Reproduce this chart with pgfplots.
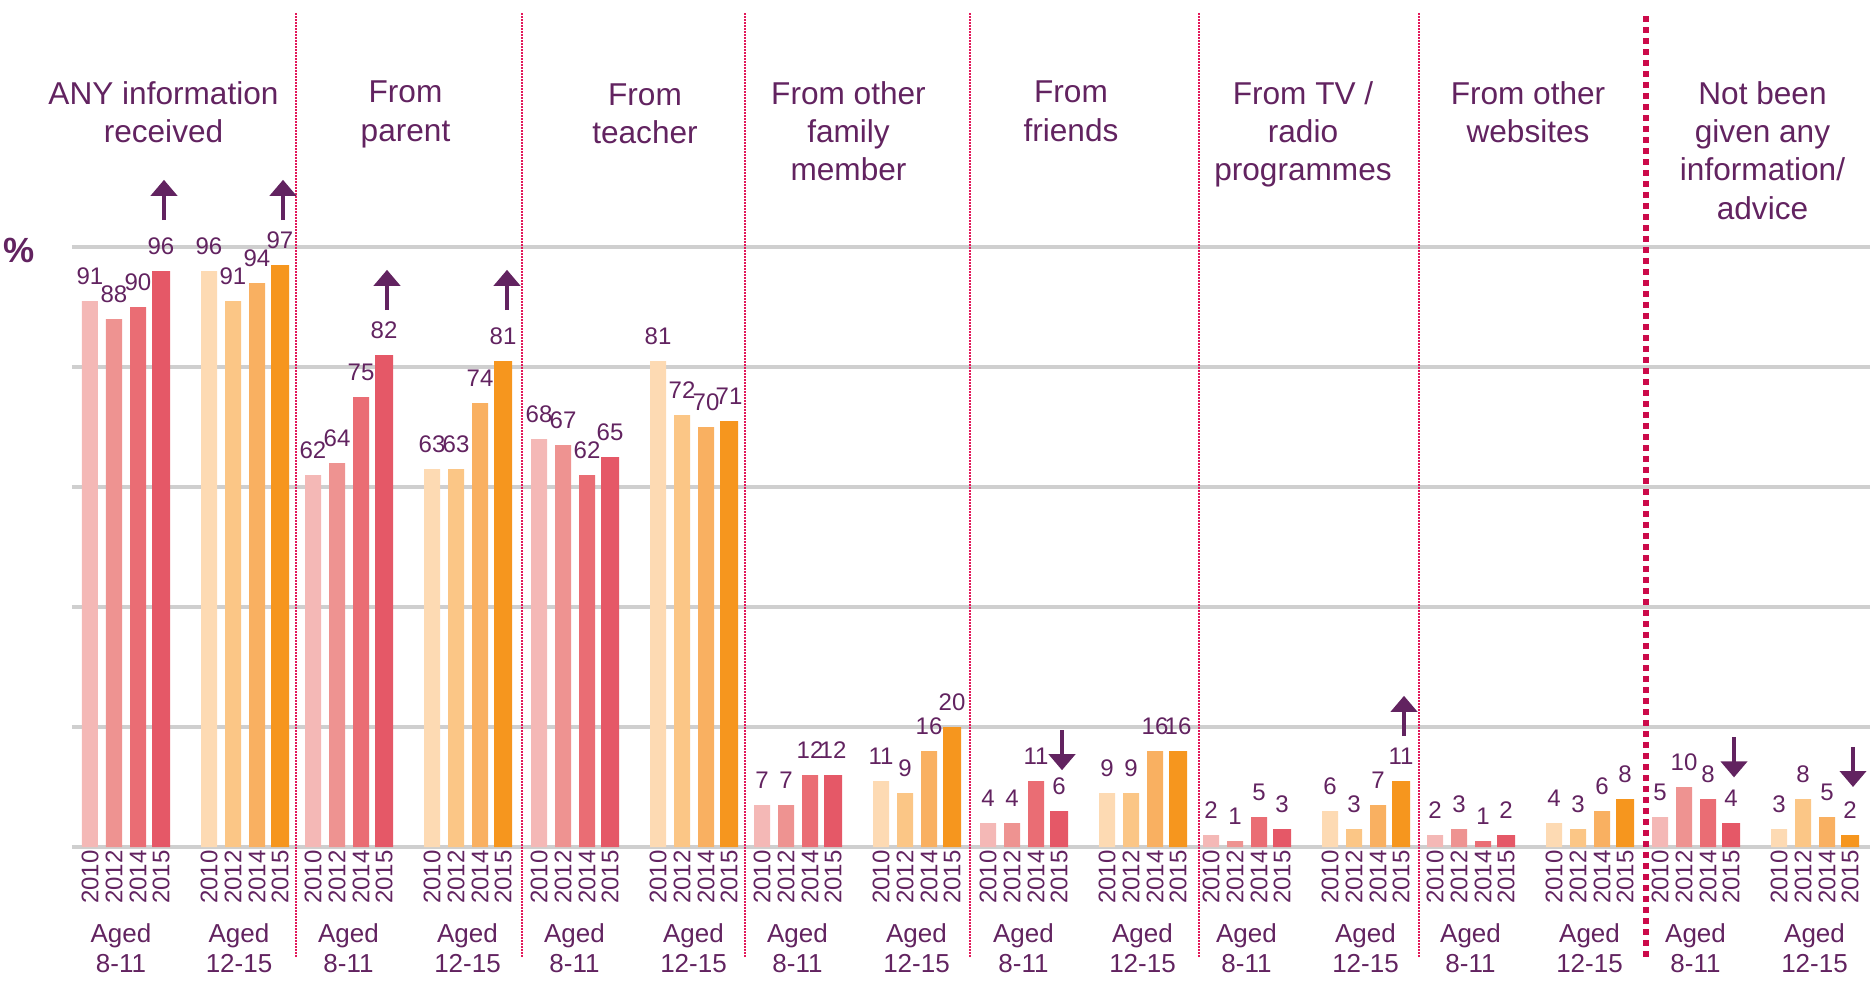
\documentclass[border=0pt]{standalone}
\usepackage{fontspec}
\setmainfont{Liberation Sans}
\usepackage{pgfplots}
\pgfplotsset{compat=1.18}
\usetikzlibrary{arrows.meta}
\definecolor{ca}{HTML}{F4B8B6}
\definecolor{cb}{HTML}{EE9391}
\definecolor{cc}{HTML}{EA6D74}
\definecolor{cd}{HTML}{E55867}
\definecolor{da}{HTML}{FDDAB3}
\definecolor{db}{HTML}{FBC686}
\definecolor{dc}{HTML}{F9B061}
\definecolor{dd}{HTML}{F6961E}
\definecolor{txt}{HTML}{622360}
\definecolor{gridc}{HTML}{CFCFCF}
\definecolor{divc}{HTML}{E2195A}
\definecolor{divk}{HTML}{CC0A4A}
\pgfplotsset{
  barstyle/.style={ybar, bar shift=0pt, bar width=#1, draw=none,
    nodes near coords,
    every node near coord/.append style={inner sep=0pt, yshift=8pt, text=txt, font=\fontsize{12}{12}\selectfont}},
}
\begin{document}
\begin{tikzpicture}
\begin{axis}[
  scale only axis, width=899pt, height=300pt,
  xmin=72, xmax=1870, ymin=0, ymax=100,
  clip=false,
  axis line style={draw=none},
  ytick={0,20,40,60,80,100}, yticklabels={},
  ymajorgrids, major grid style={draw=gridc, line width=2pt},
  major tick length=0pt,
  xtick={90,114,138,161,209,233,257,280,
         313,337,361,384,432,456,480,503,
         539,563,587,610,658,682,706,729,
         762,786,810,833,881,905,929,952,
         988,1012,1036,1059,1107,1131,1155,1178,
         1211,1235,1259,1282,1330,1354,1378,1401,
         1435,1459,1483,1506,1554,1578,1602,1625,
         1660,1684,1708,1731,1779,1803,1827,1850},
  xticklabels={2010,2012,2014,2015,2010,2012,2014,2015,
               2010,2012,2014,2015,2010,2012,2014,2015,
               2010,2012,2014,2015,2010,2012,2014,2015,
               2010,2012,2014,2015,2010,2012,2014,2015,
               2010,2012,2014,2015,2010,2012,2014,2015,
               2010,2012,2014,2015,2010,2012,2014,2015,
               2010,2012,2014,2015,2010,2012,2014,2015,
               2010,2012,2014,2015,2010,2012,2014,2015},
  xticklabel style={rotate=90, anchor=east, inner sep=1.5pt, text=txt, font=\fontsize{12}{12}\selectfont},
  /pgf/number format/assume math mode=true,
]
% Aged 8-11
\addplot[barstyle=16, fill=ca] coordinates {(90,91) (313,62) (539,68) (762,7) (988,4) (1211,2) (1435,2) (1660,5)};
\addplot[barstyle=16, fill=cb] coordinates {(114,88) (337,64) (563,67) (786,7) (1012,4) (1235,1) (1459,3) (1684,10)};
\addplot[barstyle=16, fill=cc] coordinates {(138,90) (361,75) (587,62) (810,12) (1036,11) (1259,5) (1483,1) (1708,8)};
\addplot[barstyle=18, fill=cd] coordinates {(161,96) (384,82) (610,65) (833,12) (1059,6) (1282,3) (1506,2) (1731,4)};
% Aged 12-15
\addplot[barstyle=16, fill=da] coordinates {(209,96) (432,63) (658,81) (881,11) (1107,9) (1330,6) (1554,4) (1779,3)};
\addplot[barstyle=16, fill=db] coordinates {(233,91) (456,63) (682,72) (905,9) (1131,9) (1354,3) (1578,3) (1803,8)};
\addplot[barstyle=16, fill=dc] coordinates {(257,94) (480,74) (706,70) (929,16) (1155,16) (1378,7) (1602,6) (1827,5)};
\addplot[barstyle=18, fill=dd] coordinates {(280,97) (503,81) (729,71) (952,20) (1178,16) (1401,11) (1625,8) (1850,2)};
% dividers
\addplot[draw=divc, line width=1pt, dash pattern=on 0.75pt off 0.75pt] coordinates {(296,-18.3) (296,139)};
\addplot[draw=divc, line width=1pt, dash pattern=on 0.75pt off 0.75pt] coordinates {(522,-18.3) (522,139)};
\addplot[draw=divc, line width=1pt, dash pattern=on 0.75pt off 0.75pt] coordinates {(745,-18.3) (745,139)};
\addplot[draw=divc, line width=1pt, dash pattern=on 0.75pt off 0.75pt] coordinates {(970,-18.3) (970,139)};
\addplot[draw=divc, line width=1pt, dash pattern=on 0.75pt off 0.75pt] coordinates {(1199,-18.3) (1199,139)};
\addplot[draw=divc, line width=1pt, dash pattern=on 0.75pt off 0.75pt] coordinates {(1419,-18.3) (1419,139)};
\addplot[draw=divk, line width=3pt, dash pattern=on 3pt off 2.5pt] coordinates {(1646,-18.3) (1646,139)};
% arrows
\addplot[quiver={u=0,v=6.7}, draw=txt, line width=2pt, -{Triangle[width=13pt,length=8pt]}]
  coordinates {(164,104.5) (283,104.5) (387,89.5) (507,89.5) (1404,18.5)};
\addplot[quiver={u=0,v=-6.7}, draw=txt, line width=2pt, -{Triangle[width=13pt,length=8pt]}]
  coordinates {(1062,19.5) (1734,18.3) (1853,16.7)};
% headers
\begin{scope}[every node/.style={anchor=north, align=center, inner sep=0pt, text=txt, font=\fontsize{15.8}{19.2}\selectfont}]
\node at (axis cs:163.5,127.7) {ANY information\\received};
\node at (axis cs:405.5,127.7) {From\\parent};
\node at (axis cs:645,127.3) {From\\teacher};
\node at (axis cs:848.5,127.7) {From other\\family\\member};
\node at (axis cs:1071,127.7) {From\\friends};
\node at (axis cs:1303,127.7) {From TV /\\radio\\programmes};
\node at (axis cs:1528,127.7) {From other\\websites};
\node at (axis cs:1762.5,127.7) {Not been\\given any\\information/\\advice};
\end{scope}
% age labels
\begin{scope}[every node/.style={anchor=center, align=center, inner sep=0pt, text=txt, font=\fontsize{13}{15.2}\selectfont}]
\node at (axis cs:121,-16.9) {Aged\\8-11};
\node at (axis cs:239,-16.9) {Aged\\12-15};
\node at (axis cs:348.5,-16.9) {Aged\\8-11};
\node at (axis cs:467.5,-16.9) {Aged\\12-15};
\node at (axis cs:574.5,-16.9) {Aged\\8-11};
\node at (axis cs:693.5,-16.9) {Aged\\12-15};
\node at (axis cs:797.5,-16.9) {Aged\\8-11};
\node at (axis cs:916.5,-16.9) {Aged\\12-15};
\node at (axis cs:1023.5,-16.9) {Aged\\8-11};
\node at (axis cs:1142.5,-16.9) {Aged\\12-15};
\node at (axis cs:1246.5,-16.9) {Aged\\8-11};
\node at (axis cs:1365.5,-16.9) {Aged\\12-15};
\node at (axis cs:1470.5,-16.9) {Aged\\8-11};
\node at (axis cs:1589.5,-16.9) {Aged\\12-15};
\node at (axis cs:1695.5,-16.9) {Aged\\8-11};
\node at (axis cs:1814.5,-16.9) {Aged\\12-15};
\end{scope}
\node[text=txt, font=\bfseries\fontsize{17.5}{17.5}\selectfont, inner sep=0pt] at (axis cs:19,99.5) {\%};
\coordinate (bbA) at (axis cs:0,-22.17);
\coordinate (bbB) at (axis cs:1872,141.17);
\end{axis}
\useasboundingbox (bbA) rectangle (bbB);
\end{tikzpicture}
\end{document}
